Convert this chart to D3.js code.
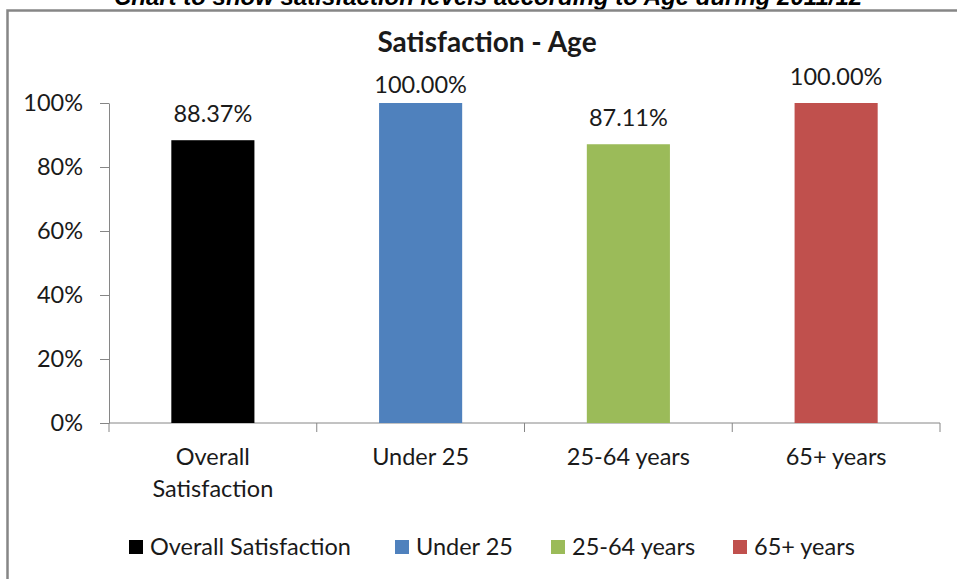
<!DOCTYPE html>
<html>
<head>
<meta charset="utf-8">
<script src="https://cdn.jsdelivr.net/npm/d3@7/dist/d3.min.js"></script>
<style>
  html, body { margin: 0; padding: 0; background: #fff; }
  svg { display: block; }
</style>
</head>
<body>
<svg id="chart" width="957" height="579"></svg>
<script>
// Satisfaction by age group, 2011/12
const categories = ["Overall Satisfaction", "Under 25", "25-64 years", "65+ years"];
const axisLabels = [["Overall", "Satisfaction"], ["Under 25"], ["25-64 years"], ["65+ years"]];
const values = [0.8837, 1.0, 0.8711, 1.0];
const colors = ["#000000", "#4F81BD", "#9BBB59", "#C0504D"];
const yTicks = [0, 0.2, 0.4, 0.6, 0.8, 1.0];

const W = 957, H = 579;
const font = "Lato, 'Open Sans', sans-serif";
const textColor = "#1a1a1a";
const axisColor = "#868686";
const fs = "23.5px";

const svg = d3.select("#chart");

// Page heading (runs off the top edge)
svg.append("text")
  .attr("x", 488).attr("y", 5)
  .attr("text-anchor", "middle")
  .style("font-family", "Arial, 'Liberation Sans', sans-serif")
  .style("font-weight", "bold").style("font-style", "italic")
  .style("font-size", "24px").attr("fill", "#000")
  .text("Chart to show satisfaction levels according to Age during 2011/12");

// Chart frame
svg.append("rect")
  .attr("x", 7.5).attr("y", 10.5)
  .attr("width", W + 20).attr("height", H + 20)
  .attr("fill", "none").attr("stroke", axisColor).attr("stroke-width", 2.5);

const plot = { left: 109, right: 940, top: 103, bottom: 423 };

const x = d3.scaleBand().domain(categories).range([plot.left, plot.right]).padding(0);
const y = d3.scaleLinear().domain([0, 1]).range([plot.bottom, plot.top]);
const barW = x.bandwidth() * 0.4;

// Chart title
const titleBaseline = 52;
const title = svg.append("text")
  .attr("x", 487).attr("y", titleBaseline)
  .attr("text-anchor", "middle")
  .style("font-family", font).style("font-weight", "bold")
  .style("font-size", "28px").attr("fill", textColor)
  .text("Satisfaction - Age");

// Y axis
const yAxis = svg.append("g")
  .attr("transform", `translate(${plot.left},0)`)
  .call(d3.axisLeft(y).tickValues(yTicks).tickFormat(d3.format(".0%")).tickSize(9).tickSizeOuter(0));
yAxis.select(".domain").attr("stroke", axisColor);
yAxis.selectAll(".tick line").attr("stroke", axisColor);
yAxis.selectAll(".tick text")
  .attr("x", -26)
  .style("font-family", font).style("font-size", fs).attr("fill", textColor);

// X axis with tick marks at band boundaries
const xAxis = svg.append("g").attr("transform", `translate(0,${plot.bottom})`);
xAxis.append("line")
  .attr("x1", plot.left).attr("x2", plot.right)
  .attr("stroke", axisColor);
const bounds = categories.map(c => x(c)).concat([x(categories[categories.length - 1]) + x.bandwidth()]);
xAxis.selectAll("line.tk").data(bounds).join("line")
  .attr("class", "tk")
  .attr("x1", d => d).attr("x2", d => d)
  .attr("y1", 0).attr("y2", 9)
  .attr("stroke", axisColor);

const catText = xAxis.selectAll("text.cat").data(categories).join("text")
  .attr("class", "cat")
  .attr("text-anchor", "middle")
  .style("font-family", font).style("font-size", fs).attr("fill", textColor);
catText.each(function(d, i) {
  const t = d3.select(this);
  axisLabels[i].forEach((line, j) => {
    t.append("tspan")
      .attr("x", x(d) + x.bandwidth() / 2)
      .attr("y", 42 + j * 32)
      .text(line);
  });
});

// Bars
svg.selectAll("rect.bar").data(categories).join("rect")
  .attr("class", "bar")
  .attr("x", d => x(d) + (x.bandwidth() - barW) / 2)
  .attr("y", (d, i) => y(values[i]))
  .attr("width", barW)
  .attr("height", (d, i) => y(0) - y(values[i]))
  .attr("fill", (d, i) => colors[i]);

// Value labels; a label that would sit under the title is pushed below it
const tb = title.node().getBBox();
const fmt = d3.format(".2%");
svg.selectAll("text.val").data(categories).join("text")
  .attr("class", "val")
  .attr("text-anchor", "middle")
  .style("font-family", font).style("font-size", fs).attr("fill", textColor)
  .attr("x", d => x(d) + x.bandwidth() / 2)
  .attr("y", (d, i) => y(values[i]) - 18)
  .text((d, i) => fmt(values[i]))
  .each(function() {
    const b = this.getBBox();
    const overlapX = b.x < tb.x + tb.width && b.x + b.width > tb.x;
    const minBaseline = titleBaseline + 41;
    if (overlapX && +d3.select(this).attr("y") < minBaseline) {
      d3.select(this).attr("y", minBaseline);
    }
  });

// Legend
const legendX = [129, 395, 551, 733];
const legend = svg.append("g");
categories.forEach((c, i) => {
  const g = legend.append("g").attr("transform", `translate(${legendX[i]},540)`);
  g.append("rect").attr("width", 14).attr("height", 14).attr("fill", colors[i]);
  g.append("text")
    .attr("x", 21).attr("y", 14.5)
    .style("font-family", font).style("font-size", fs).attr("fill", textColor)
    .text(c);
});
</script>
</body>
</html>
